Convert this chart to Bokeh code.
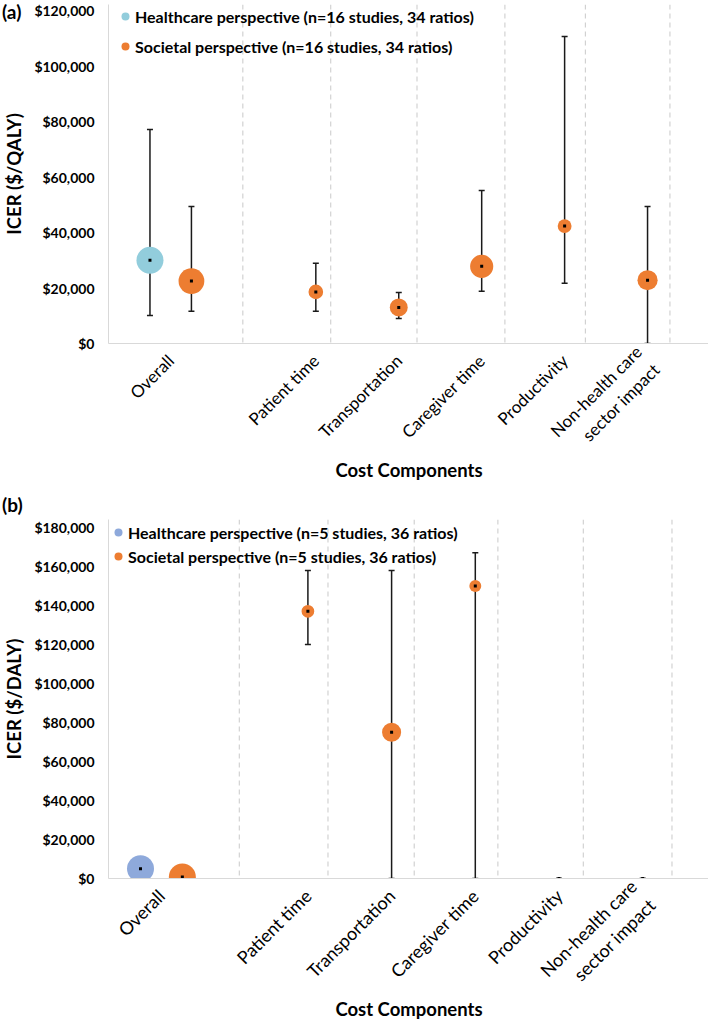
from bokeh.plotting import figure
from bokeh.layouts import column
from bokeh.models import (Range1d, FixedTicker, NumeralTickFormatter, Span, Div,
                          ColumnDataSource, Legend, LegendItem)
from bokeh.embed import file_html
from bokeh.resources import INLINE

# ---------------- data ----------------
components = ["Overall", "Patient time", "Transportation", "Caregiver time",
              "Productivity", "Non-health care\nsector impact"]

# Panel (a): ICER ($/QALY)
qaly_health_icer = [30000]
qaly_health_low = [10100]
qaly_health_high = [77100]
qaly_health_ratios = [34]
qaly_soc_icer = [22500, 18600, 13000, 27800, 42300, 22800]
qaly_soc_low = [11600, 11600, 9000, 18800, 21700, 0]
qaly_soc_high = [49400, 28900, 18400, 55100, 110600, 49400]
qaly_soc_ratios = [31, 10, 15, 25, 9, 19]

# Panel (b): ICER ($/DALY)
daly_health_icer = [5000]
daly_health_low = [5000]
daly_health_high = [5000]
daly_health_ratios = [36]
daly_soc_icer = [800, 137000, 75000, 150000, 0, 0]
daly_soc_low = [800, 120000, 0, 0, 0, 0]
daly_soc_high = [800, 158000, 158000, 167000, 0, 0]
daly_soc_ratios = [36, 8, 18, 7, 0, 0]

legend_a = ["Healthcare perspective (n=16 studies, 34 ratios)",
            "Societal perspective (n=16 studies, 34 ratios)"]
legend_b = ["Healthcare perspective (n=5 studies, 36 ratios)",
            "Societal perspective (n=5 studies, 36 ratios)"]

FONT = "Lato"
ORANGE = "#ED7D31"


def positions():
    # healthcare only on "Overall"; societal next to it, then one slot per component
    hx = [0.0]
    sx = [0.5] + [float(i + 1) for i in range(1, len(components))]
    return hx, sx


def make_panel(left, top, fw, fh, xmin, xmax, ytop, ymax, ystep, ylabel, ylab_standoff,
               ymaj_standoff, h_icer, h_low, h_high, h_n, s_icer, s_low, s_high, s_n,
               health_color, legend_labels, seps, leg_spacing, leg_vx, leg_vy,
               bubble_k, xtick_size, xlab_standoff):
    hx, sx = positions()
    p = figure(frame_width=fw, frame_height=fh, output_backend="svg", toolbar_location=None,
               x_range=Range1d(xmin, xmax), y_range=Range1d(0, ytop),
               min_border_left=left, min_border_right=0, min_border_top=top,
               min_border_bottom=0)
    p.outline_line_color = None
    p.border_fill_alpha = 0
    p.xgrid.visible = False
    p.ygrid.visible = False

    for s in seps:
        p.add_layout(Span(location=s, dimension="height", line_color="#c9c9c9",
                          line_width=1, line_dash="5 4"))

    def series(xs, icer, low, high, n, color):
        src = ColumnDataSource(dict(x=xs, y=icer, lo=low, hi=high,
                                    d=[bubble_k * (v ** 0.5) for v in n]))
        p.segment(x0="x", y0="lo", x1="x", y1="hi", source=src,
                  line_color="#1a1a1a", line_width=1.5)
        p.scatter(x="x", y="lo", source=src, marker="dash", size=6,
                  line_color="#1a1a1a", line_width=1.5)
        p.scatter(x="x", y="hi", source=src, marker="dash", size=6,
                  line_color="#1a1a1a", line_width=1.5)
        r = p.scatter(x="x", y="y", source=src, size="d", fill_color=color,
                      line_color=None)
        p.scatter(x="x", y="y", source=src, size=3, marker="square",
                  fill_color="black", line_color=None)
        return r

    r1 = series(hx, h_icer, h_low, h_high, h_n, health_color)
    r2 = series(sx, s_icer, s_low, s_high, s_n, ORANGE)

    leg = Legend(items=[LegendItem(label=legend_labels[0], renderers=[r1]),
                        LegendItem(label=legend_labels[1], renderers=[r2])],
                 glyph_width=20, glyph_height=20, label_height=20,
                 label_standoff=0, spacing=leg_spacing, padding=0, margin=0,
                 border_line_color=None, background_fill_alpha=0,
                 label_text_font=FONT, label_text_font_style="bold",
                 label_text_font_size="16px", label_text_color="black",
                 location=(leg_vx, leg_vy))
    p.add_layout(leg, "center")

    # y axis
    p.yaxis.ticker = FixedTicker(ticks=list(range(0, ymax + 1, ystep)))
    p.yaxis.formatter = NumeralTickFormatter(format="$0,0")
    p.yaxis.axis_line_color = "#d9d9d9"
    p.yaxis.major_tick_line_color = None
    p.yaxis.minor_tick_line_color = None
    p.yaxis.major_tick_out = 0
    p.yaxis.major_tick_in = 0
    p.yaxis.minor_tick_out = 0
    p.yaxis.minor_tick_in = 0
    p.yaxis.major_label_text_font = FONT
    p.yaxis.major_label_text_font_style = "bold"
    p.yaxis.major_label_text_font_size = "14px"
    p.yaxis.major_label_text_color = "black"
    p.yaxis.major_label_standoff = ymaj_standoff
    p.yaxis.axis_label = ylabel
    p.yaxis.axis_label_text_font = FONT
    p.yaxis.axis_label_text_font_style = "bold"
    p.yaxis.axis_label_text_font_size = "18.5px"
    p.yaxis.axis_label_text_color = "black"
    p.yaxis.axis_label_standoff = ylab_standoff

    # x axis
    tick_pos = [0.25] + sx[1:]
    p.xaxis.ticker = FixedTicker(ticks=tick_pos)
    p.xaxis.major_label_overrides = {t: c for t, c in zip(tick_pos, components)}
    p.xaxis.major_label_orientation = 0.785398
    p.xaxis.axis_line_color = "#d9d9d9"
    p.xaxis.major_tick_line_color = None
    p.xaxis.minor_tick_line_color = None
    p.xaxis.major_label_text_font = FONT
    p.xaxis.major_label_text_font_size = xtick_size
    p.xaxis.major_label_text_color = "black"
    p.xaxis.major_label_standoff = 8
    p.xaxis.axis_label = "Cost Components"
    p.xaxis.axis_label_text_font = FONT
    p.xaxis.axis_label_text_font_style = "bold"
    p.xaxis.axis_label_text_font_size = "18.5px"
    p.xaxis.axis_label_text_color = "black"
    p.xaxis.axis_label_standoff = xlab_standoff
    return p


def tag_div(text, mt):
    return Div(text=("<span style='font-family:Lato;font-weight:bold;font-size:19px;"
                     "color:black;line-height:24px'>%s</span>" % text),
               width=40, height=24, margin=(mt, 0, -(mt + 24), 2))


# panel (a): frame 4..343 px, 120k at 10 px; frame 106..707 px
FH_A = 339
pa = make_panel(106, 4, 601, FH_A, -0.5, 6.747, 120000 * FH_A / 333, 120000, 20000,
                "ICER ($/QALY)", 6, 14,
                qaly_health_icer, qaly_health_low, qaly_health_high, qaly_health_ratios,
                qaly_soc_icer, qaly_soc_low, qaly_soc_high, qaly_soc_ratios,
                "#92CDDC", legend_a, [1.12, 2.18, 3.22, 4.28, 5.25, 6.27],
                10, 7, 343 - 6 - 50, 27 / 34 ** 0.5, "17px", -19)

# panel (b): frame 519..878 px (fig starts at ~484), 180k at 527 px;
# frames of a column line up, so this frame also starts at 106 px
FH_B = 359
XMIN_B = -(138 - 106) / 83.7
pb = make_panel(106, 35, 601, FH_B, XMIN_B, XMIN_B + 601 / 83.7,
                180000 * FH_B / 351, 180000, 20000,
                "ICER ($/DALY)", 6, 14,
                daly_health_icer, daly_health_low, daly_health_high, daly_health_ratios,
                daly_soc_icer, daly_soc_low, daly_soc_high, daly_soc_ratios,
                "#8EA9DB", legend_b, [1.18, 2.24, 3.27, 4.27, 5.29, 6.35],
                4, 0, FH_B - (522 - 519) - 44, 27 / 36 ** 0.5, "18px", -22)

layout = column(tag_div("(a)", 0), pa, tag_div("(b)", 9), pb, spacing=0)
open("out.html", "w").write(file_html(layout, INLINE))
